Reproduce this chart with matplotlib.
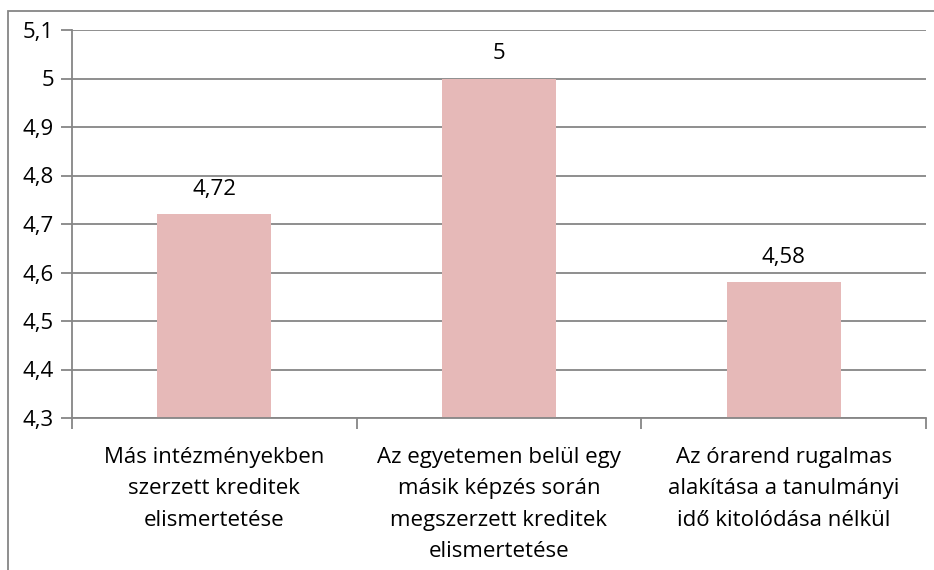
import matplotlib.pyplot as plt
import matplotlib.patches as mpatches
import numpy as np

categories = ["Más intézményekben\nszerzett kreditek\nelismertetése",
              "Az egyetemen belül egy\nmásik képzés során\nmegszerzett kreditek\nelismertetése",
              "Az órarend rugalmas\nalakítása a tanulmányi\nidő kitolódása nélkül"]
values = [4.72, 5.0, 4.58]
yticks = [4.3, 4.4, 4.5, 4.6, 4.7, 4.8, 4.9, 5.0, 5.1]

def hu(v):
    s = f"{v:.2f}".rstrip("0").rstrip(".")
    return s.replace(".", ",")

plt.rcParams["font.family"] = ["Open Sans", "DejaVu Sans"]
grey = "#868686"
fs = 16

fig = plt.figure(figsize=(9.34, 5.7), dpi=100)
ax = fig.add_axes([72/934, 1-418/570, (926-72)/934, (418-30)/570])
x = np.arange(len(values))
ax.bar(x, values, width=0.4, color="#E6B9B8", zorder=2)
ax.set_xlim(-0.5, 2.5)
ax.set_ylim(4.3, 5.1)
ax.set_yticks(yticks)
ax.set_yticklabels([hu(v) for v in yticks], fontsize=fs)
ax.yaxis.grid(True, color=grey, lw=1.3, zorder=1)
ax.tick_params(axis="y", length=8, color=grey, width=1.3, pad=5)
ax.set_xticks(x)
ax.set_xticklabels(categories, fontsize=fs, linespacing=1.64)
ax.tick_params(axis="x", which="major", length=0, pad=21)
ax.set_xticks([-0.5, 0.5, 1.5, 2.5], minor=True)
ax.tick_params(axis="x", which="minor", length=8, color=grey, width=1.3)
for s in ["top", "right"]:
    ax.spines[s].set_visible(False)
for s in ["left", "bottom"]:
    ax.spines[s].set_color(grey)
    ax.spines[s].set_linewidth(1.3)
for xi, v in zip(x, values):
    ax.text(xi, v + 0.03, hu(v), ha="center", va="bottom", fontsize=fs)

fig.patches.append(mpatches.Rectangle((7.5/934, -0.1), 1.2, 0.1 + 1-11.5/570,
                                      transform=fig.transFigure, fill=False,
                                      edgecolor=grey, lw=1.3))
fig.savefig("out.png", dpi=100)
